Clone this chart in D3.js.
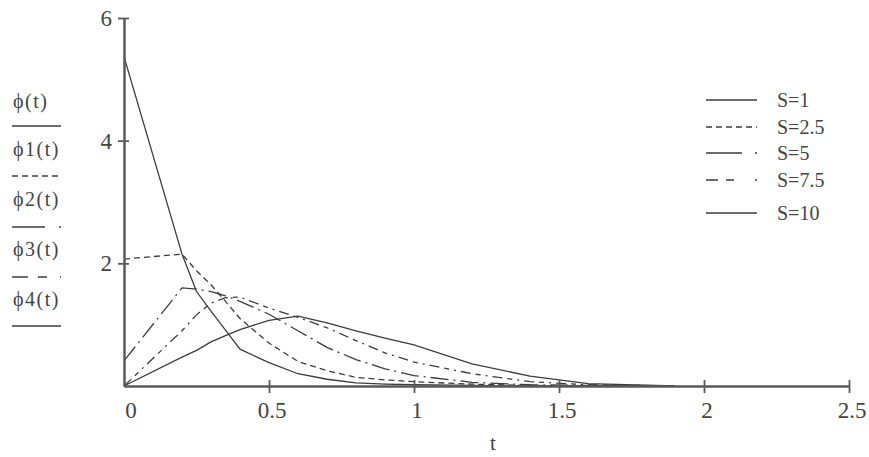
<!DOCTYPE html>
<html>
<head>
<meta charset="utf-8">
<script src="https://cdn.jsdelivr.net/npm/d3@7"></script>
<style>
  html, body { margin: 0; padding: 0; background: #fff; }
  svg { display: block; }
  text { font-family: "Liberation Serif", "DejaVu Serif", serif; fill: #444; }
</style>
</head>
<body>
<div id="chart"></div>
<script>
// sample times (t)
const tValues = [0, 0.2, 0.25, 0.3, 0.35, 0.4, 0.5, 0.6, 0.7, 0.8, 0.9, 1.0, 1.2, 1.4, 1.6, 1.9];

// one array per curve, same length as tValues
const phiS1   = [5.37, 2.15, 1.54, 1.22, 0.91, 0.60, 0.38, 0.20, 0.11, 0.05, 0.03, 0.02, 0.01, 0, 0, 0];
const phiS2_5 = [2.07, 2.15, 1.88, 1.65, 1.38, 1.10, 0.70, 0.40, 0.25, 0.14, 0.10, 0.07, 0.03, 0.01, 0, 0];
const phiS5   = [0.41, 1.60, 1.58, 1.54, 1.47, 1.38, 1.17, 0.90, 0.63, 0.43, 0.28, 0.17, 0.06, 0.02, 0.01, 0];
const phiS7_5 = [0, 0.90, 1.16, 1.35, 1.44, 1.45, 1.27, 1.12, 0.95, 0.74, 0.54, 0.39, 0.20, 0.07, 0.02, 0];
const phiS10  = [0, 0.47, 0.58, 0.72, 0.82, 0.92, 1.07, 1.14, 1.03, 0.90, 0.78, 0.67, 0.36, 0.16, 0.04, 0];

const seriesNames = ['S=1', 'S=2.5', 'S=5', 'S=7.5', 'S=10'];
const axisNames = ['ϕ(t)', 'ϕ1(t)', 'ϕ2(t)', 'ϕ3(t)', 'ϕ4(t)'];
const xTicks = [0, 0.5, 1, 1.5, 2, 2.5];
const yTicks = [2, 4, 6];

const seriesValues = [phiS1, phiS2_5, phiS5, phiS7_5, phiS10];
const curveDash = [null, '6,4', '18,5,2,5', '10,5,5,5,2,5', null];
const legendDash = [null, '6,4', '36,13,2,0', '12,8,8,21,2,0', null];
const leftDash = [null, '6,4', '33,14,2,0', '16,10,9,13,2,0', null];

const W = 869, H = 457;
const ink = '#3c3c3c';
const axisInk = '#5a5a5a';

const svg = d3.select('#chart')
  .append('svg')
  .attr('width', W)
  .attr('height', H);

const x = d3.scaleLinear().domain([0, 2.5]).range([124, 849]);
const y = d3.scaleLinear().domain([0, 6]).range([386, 18]);

// curves
const line = d3.line()
  .x(d => x(d.t))
  .y(d => y(d.v));

seriesValues.forEach((vals, i) => {
  const pts = tValues.map((t, k) => ({ t, v: vals[k] }));
  svg.append('path')
    .datum(pts)
    .attr('d', line)
    .attr('fill', 'none')
    .attr('stroke', ink)
    .attr('stroke-width', 1.3)
    .attr('stroke-dasharray', curveDash[i]);
});

// y axis, ticks crossing on both sides
const yAxisL = svg.append('g')
  .attr('transform', `translate(${x(0)},0)`)
  .call(d3.axisLeft(y).tickValues(yTicks).tickSize(6).tickSizeOuter(0).tickFormat(''));
const yAxisR = svg.append('g')
  .attr('transform', `translate(${x(0)},0)`)
  .call(d3.axisRight(y).tickValues(yTicks).tickSize(5).tickSizeOuter(0).tickFormat(''));

// x axis, ticks crossing on both sides
const xAxisB = svg.append('g')
  .attr('transform', `translate(0,${y(0)})`)
  .call(d3.axisBottom(x).tickValues(xTicks.slice(1)).tickSize(7).tickSizeOuter(0).tickFormat(''));
const xAxisT = svg.append('g')
  .attr('transform', `translate(0,${y(0)})`)
  .call(d3.axisTop(x).tickValues(xTicks.slice(1)).tickSize(6).tickSizeOuter(0).tickFormat(''));

[yAxisL, yAxisR, xAxisB, xAxisT].forEach(g => {
  g.selectAll('path, line')
    .attr('stroke', axisInk)
    .attr('stroke-width', 1.8);
});
svg.selectAll('.domain').attr('stroke-width', 2);

// tick labels
svg.selectAll('.ylab')
  .data(yTicks)
  .enter()
  .append('text')
  .attr('class', 'ylab')
  .attr('x', 112)
  .attr('y', d => y(d) + 8)
  .attr('text-anchor', 'end')
  .style('font-size', '23px')
  .text(d => d);

svg.selectAll('.xlab')
  .data(xTicks)
  .enter()
  .append('text')
  .attr('class', 'xlab')
  .attr('x', d => x(d) + (d === 0 ? 7 : 3))
  .attr('y', 418)
  .attr('text-anchor', 'middle')
  .style('font-size', '23px')
  .text(d => d);

svg.append('text')
  .attr('x', 493)
  .attr('y', 450)
  .attr('text-anchor', 'middle')
  .style('font-size', '21px')
  .text('t');

// left stack of function names, each with its line style
const leftTextY = [108, 156, 206, 256, 306];
const leftLineY = [126, 176, 227, 277, 326];
axisNames.forEach((name, i) => {
  svg.append('text')
    .attr('x', 13)
    .attr('y', leftTextY[i])
    .style('font-size', '20px')
    .style('letter-spacing', '1.5px')
    .text(name);
  svg.append('line')
    .attr('x1', 12).attr('x2', 61)
    .attr('y1', leftLineY[i]).attr('y2', leftLineY[i])
    .attr('stroke', ink)
    .attr('stroke-width', 1.5)
    .attr('stroke-dasharray', leftDash[i]);
});

// legend on the right
const legendY = [100, 127, 153, 180, 213];
const legend = svg.append('g').attr('class', 'legend');
seriesNames.forEach((name, i) => {
  legend.append('line')
    .attr('x1', 706).attr('x2', 757)
    .attr('y1', legendY[i]).attr('y2', legendY[i])
    .attr('stroke', ink)
    .attr('stroke-width', 1.4)
    .attr('stroke-dasharray', legendDash[i]);
  legend.append('text')
    .attr('x', 777)
    .attr('y', legendY[i] + 7)
    .style('font-size', '20px')
    .text(name);
});
</script>
</body>
</html>
